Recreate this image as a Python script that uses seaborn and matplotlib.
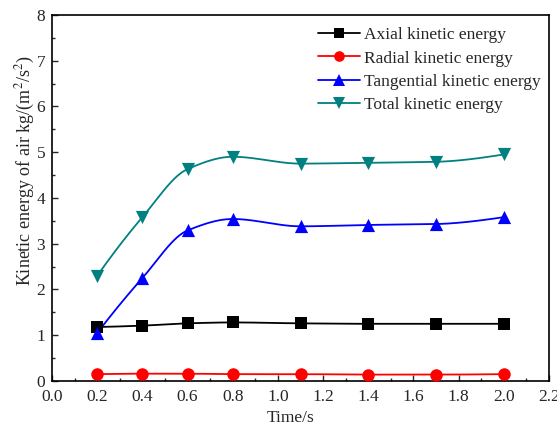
import numpy as np
import pandas as pd
import matplotlib
matplotlib.use("Agg")
import matplotlib.pyplot as plt
from matplotlib.lines import Line2D
from matplotlib.ticker import MultipleLocator
import seaborn as sns

# Sampled times (s)
time = [0.2, 0.4, 0.6, 0.8, 1.1, 1.4, 1.7, 2.0]

# Kinetic energy components, kg/(m^2/s^2)
axial = [1.18, 1.21, 1.26, 1.28, 1.26, 1.25, 1.25, 1.25]
radial = [0.15, 0.16, 0.16, 0.15, 0.15, 0.14, 0.14, 0.15]
tangential = [1.05, 2.25, 3.29, 3.54, 3.38, 3.41, 3.43, 3.58]
total = [2.30, 3.58, 4.63, 4.90, 4.75, 4.77, 4.79, 4.95]

series_names = ["Axial kinetic energy", "Radial kinetic energy",
                "Tangential kinetic energy", "Total kinetic energy"]
series_values = [axial, radial, tangential, total]
colors = ["#000000", "#FF0000", "#0000FF", "#008080"]
markers = ["s", "o", "^", "v"]
msizes = [8, 9, 9.5, 9.5]


def pchip_curve(x, y, n=300):
    """Shape-preserving piecewise cubic Hermite curve through the points."""
    x = np.asarray(x, float)
    y = np.asarray(y, float)
    h = np.diff(x)
    delta = np.diff(y) / h
    k = len(x)
    d = np.zeros(k)
    for i in range(1, k - 1):
        if delta[i - 1] * delta[i] > 0:
            w1 = 2 * h[i] + h[i - 1]
            w2 = h[i] + 2 * h[i - 1]
            d[i] = (w1 + w2) / (w1 / delta[i - 1] + w2 / delta[i])
    d[0] = ((2 * h[0] + h[1]) * delta[0] - h[0] * delta[1]) / (h[0] + h[1])
    if np.sign(d[0]) != np.sign(delta[0]):
        d[0] = 0
    d[-1] = ((2 * h[-1] + h[-2]) * delta[-1] - h[-1] * delta[-2]) / (h[-1] + h[-2])
    if np.sign(d[-1]) != np.sign(delta[-1]):
        d[-1] = 0
    xs = np.linspace(x[0], x[-1], n)
    idx = np.clip(np.searchsorted(x, xs) - 1, 0, k - 2)
    hh = h[idx]
    t = (xs - x[idx]) / hh
    h00 = 2 * t ** 3 - 3 * t ** 2 + 1
    h10 = t ** 3 - 2 * t ** 2 + t
    h01 = -2 * t ** 3 + 3 * t ** 2
    h11 = t ** 3 - t ** 2
    ys = h00 * y[idx] + h10 * hh * d[idx] + h01 * y[idx + 1] + h11 * hh * d[idx + 1]
    return xs, ys


sns.set_style("white")
plt.rcParams["font.family"] = ["Liberation Serif", "DejaVu Serif"]
plt.rcParams["mathtext.fontset"] = "stix"
plt.rcParams["font.size"] = 12.5

fig = plt.figure(figsize=(5.57, 4.25), dpi=100)
ax = fig.add_axes([0.0934, 0.1035, 0.8922, 0.8615])

handles = []
for name, vals, c, m, ms in zip(series_names, series_values, colors, markers, msizes):
    xs, ys = pchip_curve(time, vals)
    curve = pd.DataFrame({"Time": xs, "Energy": ys})
    pts = pd.DataFrame({"Time": time, "Energy": vals})
    sns.lineplot(data=curve, x="Time", y="Energy", ax=ax, color=c, lw=1.3,
                 sort=False, estimator=None)
    sns.scatterplot(data=pts, x="Time", y="Energy", ax=ax, color=c, marker=m,
                    s=ms ** 2, edgecolor=c, linewidth=0, zorder=3)
    handles.append(Line2D([], [], color=c, lw=1.3, marker=m, markersize=ms * 0.85,
                          markeredgewidth=0, label=name))

ax.set_xlim(0.0, 2.2)
ax.set_ylim(0, 8)
ax.xaxis.set_minor_locator(MultipleLocator(0.1))
ax.yaxis.set_major_locator(MultipleLocator(1))
ax.yaxis.set_minor_locator(MultipleLocator(0.5))
xt = np.arange(0, 2.21, 0.2)
ax.set_xticks(xt)
ax.set_xticklabels([f"{v:.1f}" for v in xt])
ax.tick_params(which="both", direction="in", bottom=True, left=True,
               top=False, right=False, labelsize=12.5)
ax.tick_params(axis="x", pad=6)
ax.tick_params(axis="y", pad=5)
ax.tick_params(which="major", length=4, width=1)
ax.tick_params(which="minor", length=2.5, width=1)
for s in ax.spines.values():
    s.set_linewidth(1.2)
    s.set_color("#000000")

ax.set_xlabel("Time/s", fontsize=12.5)
ax.xaxis.set_label_coords(0.479, -0.078)
ax.set_ylabel("Kinetic energy of air kg/(m$^{2}$/s$^{2}$)", fontsize=13)
ax.yaxis.set_label_coords(-0.030, 0.574)

ax.legend(handles=handles, loc="upper left", bbox_to_anchor=(0.522, 0.985),
          frameon=False, fontsize=12.5, handlelength=2.4, handletextpad=0.25,
          labelspacing=0.4, borderaxespad=0)

fig.savefig("out.png", dpi=100)
